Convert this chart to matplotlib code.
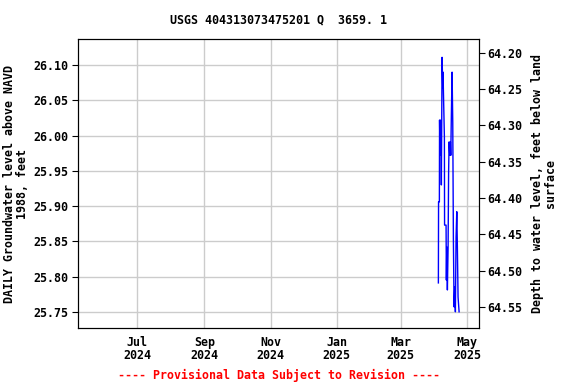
import matplotlib
matplotlib.use('Agg')
import matplotlib.pyplot as plt
import pandas as pd

# daily groundwater level (feet above NAVD 1988)
times = [
    '2025-04-04 14:00', '2025-04-04 18:00', '2025-04-05 12:00', '2025-04-05 16:00',
    '2025-04-06 03:00', '2025-04-06 10:00', '2025-04-06 19:00', '2025-04-07 02:00',
    '2025-04-07 08:00', '2025-04-08 00:00', '2025-04-08 15:00', '2025-04-08 22:00',
    '2025-04-09 04:00', '2025-04-10 03:00', '2025-04-10 07:00', '2025-04-11 16:00',
    '2025-04-11 23:00', '2025-04-12 08:00', '2025-04-12 21:00', '2025-04-13 13:00',
    '2025-04-14 00:00', '2025-04-14 11:00', '2025-04-15 02:00', '2025-04-15 15:00',
    '2025-04-16 00:00', '2025-04-16 13:00', '2025-04-17 05:00', '2025-04-17 20:00',
    '2025-04-18 10:00', '2025-04-19 01:00', '2025-04-19 16:00', '2025-04-20 06:00',
    '2025-04-20 21:00', '2025-04-21 13:00', '2025-04-22 02:00', '2025-04-22 17:00',
    '2025-04-23 16:00',
]
levels = [
    25.791, 25.906, 25.906, 26.022, 25.972, 26.022, 25.980, 26.015,
    25.930, 26.111, 26.067, 26.090, 26.067, 25.998, 25.873, 25.873,
    25.795, 25.842, 25.781, 25.842, 25.947, 25.991, 25.972, 25.991,
    25.972, 26.029, 26.090, 26.018, 25.852, 25.757, 25.785, 25.750,
    25.856, 25.892, 25.842, 25.771, 25.750,
]

tick_dates = ['2024-07-01', '2024-09-01', '2024-11-01', '2025-01-01', '2025-03-01', '2025-05-01']
tick_labels = ['Jul\n2024', 'Sep\n2024', 'Nov\n2024', 'Jan\n2025', 'Mar\n2025', 'May\n2025']
left_ticks = [25.75, 25.80, 25.85, 25.90, 25.95, 26.00, 26.05, 26.10]
right_ticks = [64.20, 64.25, 64.30, 64.35, 64.40, 64.45, 64.50, 64.55]

font = {'family': 'DejaVu Sans Mono', 'weight': 'bold', 'size': 8.4}

fig = plt.figure(figsize=(5.76, 3.84), dpi=100)
ax = fig.add_axes([0.1354, 0.1458, 0.6962, 0.7526])

ax.plot(pd.to_datetime(times), levels, color='blue', linewidth=1)

ax.set_xlim(pd.Timestamp('2024-05-07 16:00'), pd.Timestamp('2025-05-12'))
ax.set_ylim(25.727, 26.137)
ax.set_xticks(pd.to_datetime(tick_dates))
ax.set_xticklabels(tick_labels, fontdict=font, linespacing=1.0)
ax.set_yticks(left_ticks)
ax.set_yticklabels([f'{v:.2f}' for v in left_ticks], fontdict=font)
ax.grid(True, color='#cccccc', linewidth=1)
ax.tick_params(axis='x', length=0, pad=6)
ax.tick_params(axis='y', length=4, pad=3)
ax.set_ylabel('DAILY Groundwater level above NAVD\n1988, feet', fontdict=font,
              labelpad=3, linespacing=1.0)

ax2 = ax.twinx()
ax2.set_ylim(64.579, 64.181)
ax2.set_yticks(right_ticks)
ax2.set_yticklabels([f'{v:.2f}' for v in right_ticks], fontdict=font)
ax2.tick_params(axis='y', length=4, pad=2)
ax2.set_ylabel('Depth to water level, feet below land\nsurface', fontdict=font,
               rotation=90, labelpad=6, linespacing=1.0)

fig.text(0.484, 0.948, 'USGS 404313073475201 Q  3659. 1', ha='center', va='center',
         family='DejaVu Sans Mono', weight='bold', size=8.4)
fig.text(0.484, 0.023, '---- Provisional Data Subject to Revision ----', ha='center',
         va='center', color='red', family='DejaVu Sans Mono', weight='bold', size=8.4)

fig.savefig('out.png', dpi=100)
